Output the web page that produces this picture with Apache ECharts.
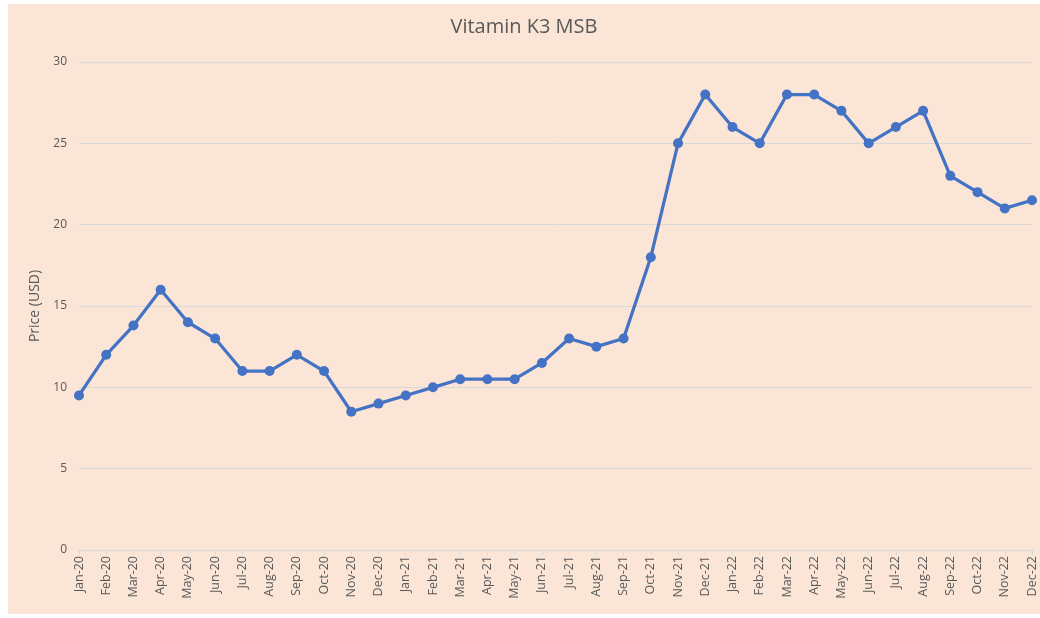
<!DOCTYPE html>
<html><head><meta charset="utf-8">
<script src="https://cdn.jsdelivr.net/npm/echarts@6/dist/echarts.min.js"></script>
<style>html,body{margin:0;padding:0;background:#fff;}#c{position:absolute;left:8px;top:4px;width:1032px;height:610px;background:#FBE5D6;}</style>
</head><body><div id="c"></div>
<script>
const categories = ["Jan-20","Feb-20","Mar-20","Apr-20","May-20","Jun-20","Jul-20","Aug-20","Sep-20","Oct-20","Nov-20","Dec-20",
"Jan-21","Feb-21","Mar-21","Apr-21","May-21","Jun-21","Jul-21","Aug-21","Sep-21","Oct-21","Nov-21","Dec-21",
"Jan-22","Feb-22","Mar-22","Apr-22","May-22","Jun-22","Jul-22","Aug-22","Sep-22","Oct-22","Nov-22","Dec-22"];
const prices = [9.5,12,13.8,16,14,13,11,11,12,11,8.5,9,
9.5,10,10.5,10.5,10.5,11.5,13,12.5,13,18,25,28,
26,25,28,28,27,25,26,27,23,22,21,21.5];
const yTicks = {min:0,max:30,interval:5};
const chart = echarts.init(document.getElementById('c'));
chart.setOption({
  backgroundColor:'#FBE5D6',
  title:{text:'Vitamin K3 MSB',left:'center',top:8,textStyle:{fontFamily:'Open Sans',fontSize:20,fontWeight:'normal',color:'#595959'}},
  grid:{left:71,right:8,top:58,bottom:64},
  xAxis:{type:'category',data:categories,boundaryGap:false,
    axisLine:{lineStyle:{color:'#D9D9D9',width:1}},
    axisTick:{show:true,alignWithLabel:true,length:5,lineStyle:{color:'#D9D9D9'}},
    axisLabel:{rotate:90,interval:0,color:'#595959',fontFamily:'Open Sans',fontSize:12.5,margin:6}},
  yAxis:{type:'value',min:yTicks.min,max:yTicks.max,interval:yTicks.interval,
    name:'Price (USD)',nameLocation:'middle',nameGap:34,nameRotate:90,
    nameTextStyle:{color:'#595959',fontFamily:'Open Sans',fontSize:14},
    axisLine:{show:false},axisTick:{show:false},
    axisLabel:{color:'#595959',fontFamily:'Open Sans',fontSize:12,margin:12},
    splitLine:{lineStyle:{color:'#D9D9D9',width:1}}},
  series:[{type:'line',data:prices,symbol:'circle',symbolSize:10,
    lineStyle:{color:'#4472C4',width:3.25},itemStyle:{color:'#4472C4'},animation:false}]
});
</script></body></html>
